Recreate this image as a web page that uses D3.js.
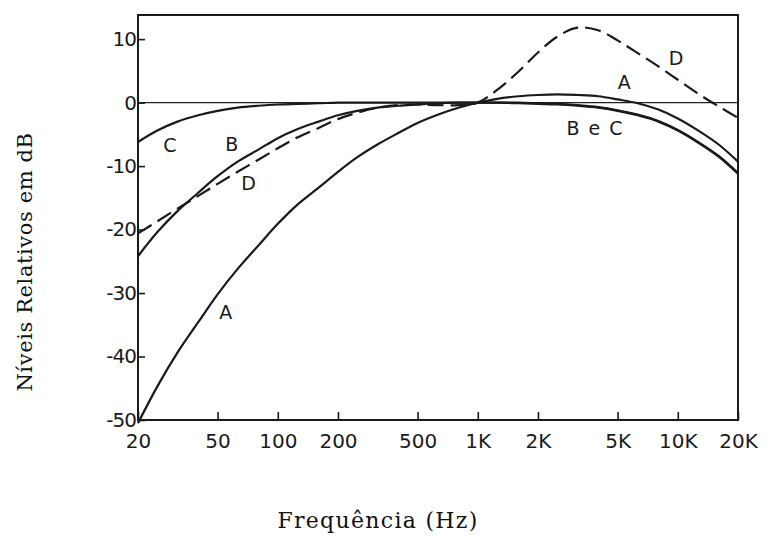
<!DOCTYPE html>
<html>
<head>
<meta charset="utf-8">
<script src="https://cdn.jsdelivr.net/npm/d3@7"></script>
<style>
  body { margin: 0; background: #fff; }
  .tick-lbl { font-family: "DejaVu Sans", sans-serif; font-size: 20px; fill: #1a1a1a; }
  .curve-lbl { font-family: "DejaVu Sans", sans-serif; font-size: 19px; fill: #1a1a1a; }
  .title { font-family: "DejaVu Serif", serif; fill: #111; }
</style>
</head>
<body>
<div class="canvas"></div>
<script>
// frequencias (Hz) em terços de oitava
var freqs = [20, 25, 31.5, 40, 50, 63, 80, 100, 125, 160, 200, 250, 315, 400, 500, 630, 800,
             1000, 1250, 1600, 2000, 2500, 3150, 4000, 5000, 6300, 8000, 10000, 12500, 16000, 20000];
// curvas de ponderação (dB)
var curvaA = [-50.5, -44.7, -39.4, -34.6, -30.2, -26.2, -22.5, -19.1, -16.1, -13.4, -10.9, -8.6, -6.6, -4.8, -3.2, -1.9, -0.8,
              0, 0.6, 1.0, 1.2, 1.3, 1.2, 1.0, 0.5, -0.1, -1.1, -2.5, -4.3, -6.6, -9.3];
var curvaB = [-24.2, -20.4, -17.1, -14.2, -11.6, -9.3, -7.4, -5.6, -4.2, -3.0, -2.0, -1.3, -0.8, -0.5, -0.3, -0.1, 0,
              0, 0, 0, -0.1, -0.2, -0.4, -0.7, -1.2, -1.9, -2.9, -4.3, -6.1, -8.4, -11.1];
var curvaC = [-6.2, -4.4, -3.0, -2.0, -1.3, -0.8, -0.5, -0.3, -0.2, -0.1, 0, 0, 0, 0, 0, 0, 0,
              0, 0, -0.1, -0.2, -0.3, -0.5, -0.8, -1.3, -2.0, -3.0, -4.4, -6.2, -8.5, -11.2];
var curvaD = [-20.6, -18.7, -16.7, -14.7, -12.8, -10.9, -9.0, -7.2, -5.5, -4.0, -2.6, -1.6, -0.8, -0.4, -0.3, -0.4, -0.4,
              0, 2.0, 4.9, 7.9, 10.4, 11.8, 11.4, 9.8, 7.8, 5.7, 3.6, 1.5, -0.6, -2.4];

var xTicks = [20, 50, 100, 200, 500, 1000, 2000, 5000, 10000, 20000];
var xTickLabels = ["20", "50", "100", "200", "500", "1K", "2K", "5K", "10K", "20K"];
var yTicks = [10, 0, -10, -20, -30, -40, -50];

// rótulos das curvas (freq, dB)
var rotulos = [
  {t: "C", f: 28.9, db: -6.7},
  {t: "B", f: 58.8, db: -6.5},
  {t: "D", f: 71.5, db: -12.7},
  {t: "A", f: 54.9, db: -33},
  {t: "A", f: 5400, db: 3.2},
  {t: "D", f: 9800, db: 7.0},
  {t: "B e C", f: 3830, db: -4.0}
];

var width = 769, height = 540;
var svg = d3.select(".canvas").append("svg")
  .attr("width", width).attr("height", height);

var x = d3.scaleLog().domain([20, 20000]).range([138, 738]);
var y = d3.scaleLinear().domain([-50, 13.8]).range([420, 15]);

// moldura
svg.append("rect")
  .attr("x", x(20)).attr("y", y(13.8))
  .attr("width", x(20000) - x(20)).attr("height", y(-50) - y(13.8))
  .attr("fill", "none").attr("stroke", "#1a1a1a").attr("stroke-width", 2);

// linha de 0 dB
svg.append("line")
  .attr("x1", x(20)).attr("x2", x(20000))
  .attr("y1", y(0)).attr("y2", y(0))
  .attr("stroke", "#222").attr("stroke-width", 1.3);

// eixo x
var axisx = d3.axisBottom(x).tickValues(xTicks).tickSize(-8).tickPadding(14)
  .tickFormat(function(d, i) { return xTickLabels[i]; });
var gx = svg.append("g").attr("transform", "translate(0," + y(-50) + ")").call(axisx);
gx.select(".domain").remove();
gx.selectAll("line").attr("stroke", "#1a1a1a").attr("stroke-width", 1.6);
gx.selectAll("text").attr("class", "tick-lbl").attr("font-size", null).attr("font-family", null).attr("dy", "0.72em");

// eixo y (hífen curto como no original)
var axisy = d3.axisLeft(y).tickValues(yTicks).tickSize(-7).tickPadding(2)
  .tickFormat(function(d) { return String(d); });
var gy = svg.append("g").attr("transform", "translate(" + x(20) + ",0)").call(axisy);
gy.select(".domain").remove();
gy.selectAll("line").attr("stroke", "#1a1a1a").attr("stroke-width", 1.6);
gy.selectAll("text").attr("class", "tick-lbl").attr("font-size", null).attr("font-family", null)
  .attr("letter-spacing", "-1px");

// curvas
var line = d3.line()
  .x(function(d) { return x(d[0]); })
  .y(function(d) { return y(d[1]); })
  .curve(d3.curveCatmullRom.alpha(0.5));

var series = [
  {vals: curvaA, dash: null},
  {vals: curvaB, dash: null},
  {vals: curvaC, dash: null},
  {vals: curvaD, dash: "16,7"}
];
series.forEach(function(s) {
  svg.append("path")
    .datum(freqs.map(function(f, i) { return [f, s.vals[i]]; }))
    .attr("d", line)
    .attr("fill", "none")
    .attr("stroke", "#1a1a1a")
    .attr("stroke-width", 2.2)
    .attr("stroke-dasharray", s.dash);
});

// letras das curvas
svg.selectAll(".curve-lbl").data(rotulos).enter().append("text")
  .attr("class", "curve-lbl")
  .attr("x", function(d) { return x(d.f); })
  .attr("y", function(d) { return y(d.db); })
  .attr("text-anchor", "middle")
  .attr("dy", "0.36em")
  .attr("word-spacing", "3px")
  .text(function(d) { return d.t; });

// títulos dos eixos
svg.append("text").attr("class", "title")
  .attr("x", 378).attr("y", 528)
  .attr("text-anchor", "middle")
  .attr("font-size", "22px")
  .attr("letter-spacing", "1.3px")
  .text("Frequência (Hz)");

svg.append("text").attr("class", "title")
  .attr("transform", "translate(32,262) rotate(-90)")
  .attr("text-anchor", "middle")
  .attr("font-size", "21px")
  .attr("letter-spacing", "0.6px")
  .text("Níveis Relativos em dB");
</script>
</body>
</html>
